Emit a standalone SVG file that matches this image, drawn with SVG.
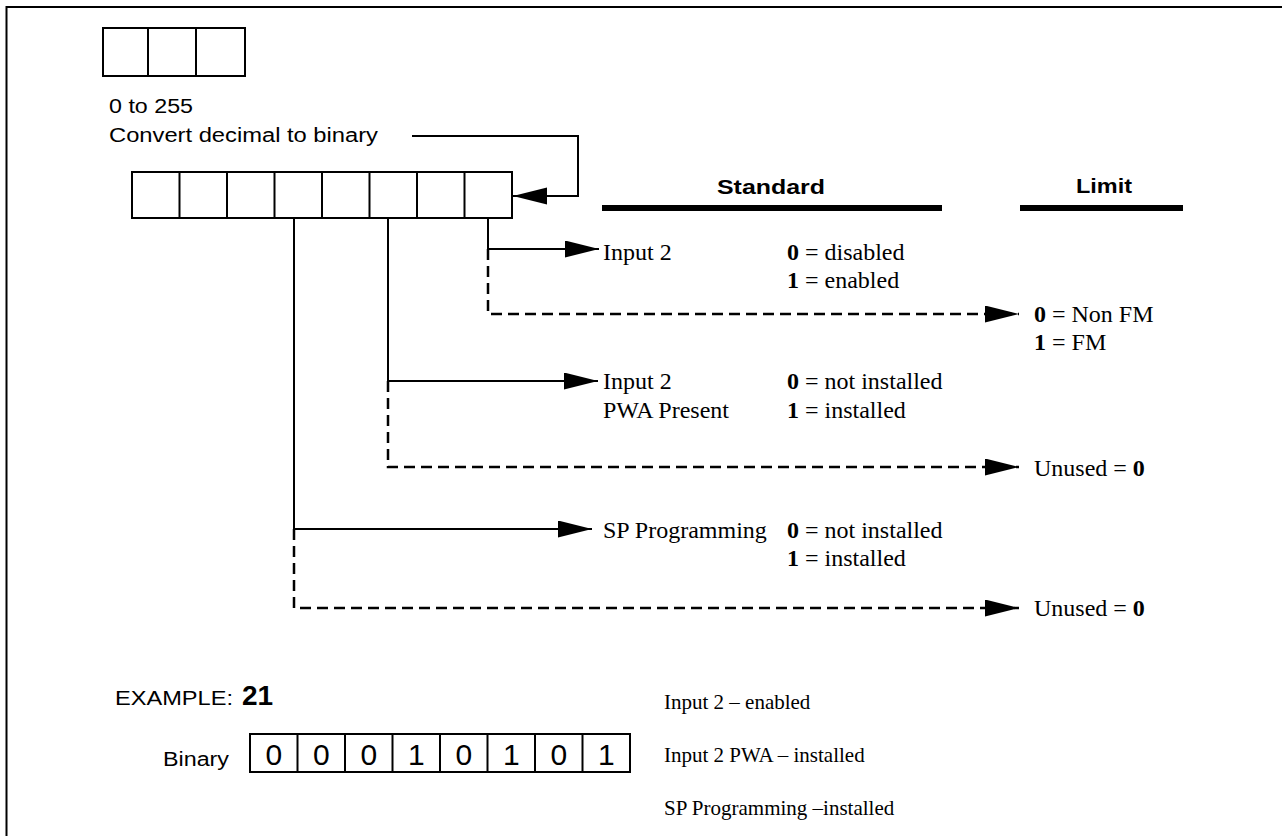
<svg xmlns="http://www.w3.org/2000/svg" width="1282" height="836" viewBox="0 0 1282 836">
<style>
.box{fill:#fff;stroke:#000;stroke-width:2}
.div{stroke:#000;stroke-width:2}
.ln{fill:none;stroke:#000;stroke-width:2}
.dash{fill:none;stroke:#000;stroke-width:2.5;stroke-dasharray:11 6}
.bar{fill:#000}
.sans{font-family:"Liberation Sans",Arial,sans-serif;fill:#000}
.serif{font-family:"Liberation Serif","Times New Roman",serif;font-size:24px;fill:#000}
.small{font-size:21px}
.b{font-weight:bold}
.dig{font-family:"Liberation Sans",Arial,sans-serif;font-size:30px;fill:#000;text-anchor:middle}
</style>
<defs>
<marker id="arr" markerUnits="userSpaceOnUse" markerWidth="36" markerHeight="18" refX="34" refY="8.5" orient="auto">
<path d="M0,0 L34,8.5 L0,17 z" fill="#000"/>
</marker>
</defs>
<path d="M1282,7 H6.5 V836" class="ln"/>

<g id="decimal-box">
<rect x="103" y="28" width="142" height="48" class="box"/>
<line x1="148" y1="28" x2="148" y2="76" class="div"/>
<line x1="196" y1="28" x2="196" y2="76" class="div"/>
<text x="109" y="113" class="sans" font-size="20" textLength="84" lengthAdjust="spacingAndGlyphs">0 to 255</text>
<text x="109" y="142" class="sans" font-size="20" textLength="269" lengthAdjust="spacingAndGlyphs">Convert decimal to binary</text>
</g>

<g id="register">
<rect x="132" y="172" width="380" height="46" class="box"/>
<line x1="179.5" y1="172" x2="179.5" y2="218" class="div"/>
<line x1="227" y1="172" x2="227" y2="218" class="div"/>
<line x1="274.5" y1="172" x2="274.5" y2="218" class="div"/>
<line x1="322" y1="172" x2="322" y2="218" class="div"/>
<line x1="369.5" y1="172" x2="369.5" y2="218" class="div"/>
<line x1="417" y1="172" x2="417" y2="218" class="div"/>
<line x1="464.5" y1="172" x2="464.5" y2="218" class="div"/>
</g>

<g id="headers">
<text x="717" y="194" class="sans b" font-size="21" textLength="108" lengthAdjust="spacingAndGlyphs">Standard</text>
<rect x="602" y="205" width="340" height="6" class="bar"/>
<text x="1076" y="193" class="sans b" font-size="21" textLength="56" lengthAdjust="spacingAndGlyphs">Limit</text>
<rect x="1020" y="205" width="163" height="6" class="bar"/>
</g>

<g id="connectors">
<path d="M412,136 H578 V196 H513" class="ln" marker-end="url(#arr)"/>
<path d="M488,218 V249 H599" class="ln" marker-end="url(#arr)"/>
<path d="M488,249 V314 H1019" class="dash" marker-end="url(#arr)"/>
<path d="M388,218 V381 H598" class="ln" marker-end="url(#arr)"/>
<path d="M388,381 V467 H1019" class="dash" marker-end="url(#arr)"/>
<path d="M294,218 V529 H592" class="ln" marker-end="url(#arr)"/>
<path d="M294,529 V608 H1019" class="dash" marker-end="url(#arr)"/>
</g>

<g id="bit0-standard">
<text x="603" y="260" class="serif">Input 2</text>
<text x="787" y="260" class="serif"><tspan class="b">0</tspan> = disabled</text>
<text x="787" y="288" class="serif"><tspan class="b">1</tspan> = enabled</text>
</g>
<g id="bit0-limit">
<text x="1034" y="322" class="serif"><tspan class="b">0</tspan> = Non FM</text>
<text x="1034" y="350" class="serif"><tspan class="b">1</tspan> = FM</text>
</g>
<g id="bit2-standard">
<text x="603" y="389" class="serif">Input 2</text>
<text x="603" y="418" class="serif">PWA Present</text>
<text x="787" y="389" class="serif"><tspan class="b">0</tspan> = not installed</text>
<text x="787" y="418" class="serif"><tspan class="b">1</tspan> = installed</text>
</g>
<g id="bit2-limit">
<text x="1034" y="476" class="serif">Unused = <tspan class="b">0</tspan></text>
</g>
<g id="bit4-standard">
<text x="603" y="538" class="serif">SP Programming</text>
<text x="787" y="538" class="serif"><tspan class="b">0</tspan> = not installed</text>
<text x="787" y="566" class="serif"><tspan class="b">1</tspan> = installed</text>
</g>
<g id="bit4-limit">
<text x="1034" y="616" class="serif">Unused = <tspan class="b">0</tspan></text>
</g>

<g id="example">
<text x="115" y="705" class="sans" font-size="20" textLength="118" lengthAdjust="spacingAndGlyphs">EXAMPLE:</text>
<text x="242" y="705" class="sans b" font-size="28">21</text>
<text x="163" y="766" class="sans" font-size="20" textLength="66" lengthAdjust="spacingAndGlyphs">Binary</text>
<rect x="250" y="734" width="380" height="38" class="box"/>
<line x1="297.5" y1="734" x2="297.5" y2="772" class="div"/>
<line x1="345" y1="734" x2="345" y2="772" class="div"/>
<line x1="392.5" y1="734" x2="392.5" y2="772" class="div"/>
<line x1="440" y1="734" x2="440" y2="772" class="div"/>
<line x1="487.5" y1="734" x2="487.5" y2="772" class="div"/>
<line x1="535" y1="734" x2="535" y2="772" class="div"/>
<line x1="582.5" y1="734" x2="582.5" y2="772" class="div"/>
<text x="273.75" y="765" class="dig">0</text>
<text x="321.25" y="765" class="dig">0</text>
<text x="368.75" y="765" class="dig">0</text>
<text x="416.25" y="765" class="dig">1</text>
<text x="463.75" y="765" class="dig">0</text>
<text x="511.25" y="765" class="dig">1</text>
<text x="558.75" y="765" class="dig">0</text>
<text x="606.25" y="765" class="dig">1</text>
</g>

<g id="example-notes">
<text x="664" y="709" class="serif small">Input 2 – enabled</text>
<text x="664" y="762" class="serif small">Input 2 PWA – installed</text>
<text x="664" y="815" class="serif small">SP Programming –installed</text>
</g>
</svg>
